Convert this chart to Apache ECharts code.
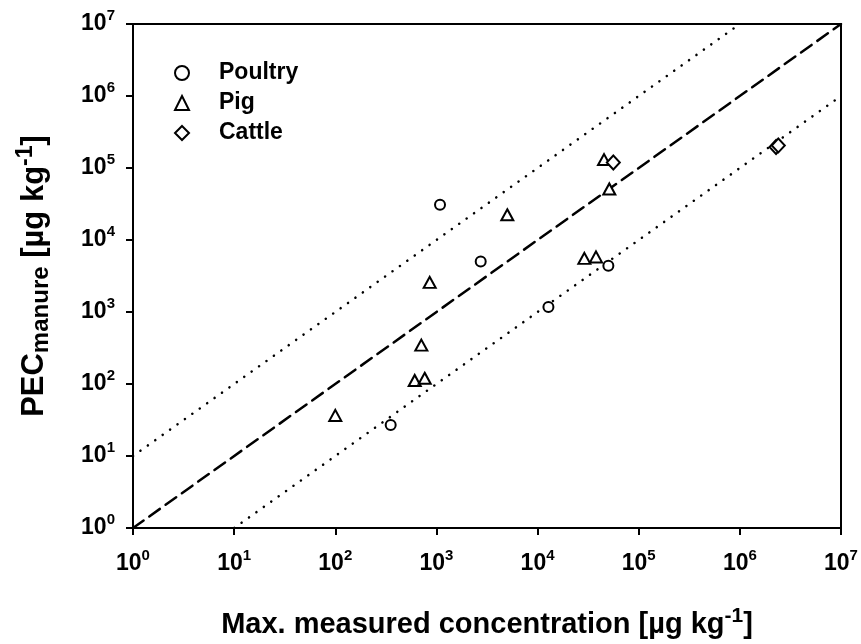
<!DOCTYPE html>
<html>
<head>
<meta charset="utf-8">
<title>PEC manure vs measured</title>
<script src="https://cdn.jsdelivr.net/npm/echarts@6/dist/echarts.min.js"></script>
<style>
  html, body { margin: 0; padding: 0; background: #fff; }
  #chart { width: 861px; height: 644px; }
</style>
</head>
<body>
<div id="chart"></div>
<script>
// measured [µg/kg] vs PEC manure [µg/kg]
const poultry = [
  [1085, 30800],
  [2740, 5020],
  [12800, 1170],
  [50100, 4380],
  [353, 26.9]
];
const pig = [
  [100, 36.6],
  [610, 112],
  [766, 120],
  [709, 347],
  [858, 2580],
  [5020, 22400],
  [29000, 5560],
  [37800, 5820],
  [45400, 131000],
  [51200, 51100]
];
const cattle = [
  [56100, 119000],
  [2280000, 196000],
  [2400000, 206000]
];
// reference lines: 1:1 and one order of magnitude either side
const lineOneToOne = [[1, 1], [1e7, 1e7]];
const lineUpper = [[1, 10], [1e6, 1e7]];
const lineLower = [[10, 1], [1e7, 1e6]];

const font = "'Liberation Sans', Arial, sans-serif";

function powLabel(value) {
  const e = Math.round(Math.log10(value));
  return "{b|10}{s|" + e + "}";
}

const tickRich = {
  b: { fontFamily: font, fontWeight: "bold", fontSize: 23, color: "#000" },
  s: { fontFamily: font, fontWeight: "bold", fontSize: 15, color: "#000", padding: [0, 0, 16, 0] }
};

const xNameRich = {
  a: { fontFamily: font, fontWeight: "bold", fontSize: 29, color: "#000" },
  sup: { fontFamily: font, fontWeight: "bold", fontSize: 21, color: "#000", padding: [0, 0, 16, 0] }
};

const yNameRich = {
  a: { fontFamily: font, fontWeight: "bold", fontSize: 31, color: "#000" },
  sub: { fontFamily: font, fontWeight: "bold", fontSize: 24, color: "#000", padding: [14, 0, 0, 0] },
  sup: { fontFamily: font, fontWeight: "bold", fontSize: 23, color: "#000", padding: [0, 0, 18, 0] }
};

function scatter(name, symbol, size, data) {
  return {
    name: name,
    type: "scatter",
    symbol: symbol,
    symbolSize: size,
    data: data,
    z: 5,
    itemStyle: { color: "#fff", borderColor: "#000", borderWidth: 2, opacity: 1 }
  };
}

function refLine(data, dash, width) {
  return {
    type: "line",
    data: data,
    symbol: "none",
    silent: true,
    z: 2,
    lineStyle: { color: "#000", width: width, type: dash, cap: "round" }
  };
}

const chart = echarts.init(document.getElementById("chart"));

chart.setOption({
  animation: false,
  backgroundColor: "#fff",
  grid: {
    left: 133,
    right: 20,
    top: 24,
    bottom: 111,
    show: true,
    borderColor: "#000",
    borderWidth: 2,
    backgroundColor: "transparent"
  },
  legend: {
    orient: "vertical",
    left: 169,
    top: 56,
    itemWidth: 14,
    itemHeight: 14,
    itemGap: 6,
    textStyle: {
      fontFamily: font,
      fontWeight: "bold",
      fontSize: 23,
      color: "#000",
      lineHeight: 24,
      padding: [0, 0, 0, 25]
    },
    data: ["Poultry", "Pig", "Cattle"]
  },
  xAxis: {
    type: "log",
    logBase: 10,
    min: 1,
    max: 1e7,
    interval: 1,
    name: "{a|Max. measured concentration [µg kg}{sup|-1}{a|]}",
    nameLocation: "middle",
    nameGap: 78,
    nameTextStyle: { rich: xNameRich },
    axisLine: { lineStyle: { color: "#000", width: 2 } },
    axisTick: { show: true, inside: false, length: 7, lineStyle: { color: "#000", width: 2 } },
    minorTick: { show: false },
    splitLine: { show: false },
    axisLabel: { margin: 20, formatter: powLabel, rich: tickRich }
  },
  yAxis: {
    type: "log",
    logBase: 10,
    min: 1,
    max: 1e7,
    interval: 1,
    name: "{a|PEC}{sub|manure}{a| [µg kg}{sup|-1}{a|]}",
    nameLocation: "middle",
    nameRotate: 90,
    nameGap: 78,
    nameTextStyle: { rich: yNameRich },
    axisLine: { lineStyle: { color: "#000", width: 2 } },
    axisTick: { show: true, inside: false, length: 7, lineStyle: { color: "#000", width: 2 } },
    minorTick: { show: false },
    splitLine: { show: false },
    axisLabel: { margin: 18, formatter: powLabel, rich: tickRich }
  },
  series: [
    refLine(lineUpper, [0.1, 9], 2.5),
    refLine(lineLower, [0.1, 9], 2.5),
    refLine(lineOneToOne, [13, 7], 2.5),
    scatter("Poultry", "circle", 10, poultry),
    scatter("Pig", "triangle", [12, 11], pig),
    scatter("Cattle", "diamond", [13, 14], cattle)
  ]
});
</script>
</body>
</html>
